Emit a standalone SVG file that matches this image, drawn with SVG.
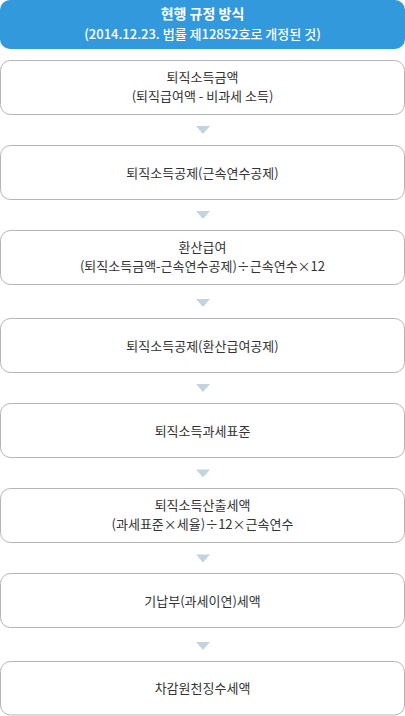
<svg xmlns="http://www.w3.org/2000/svg" width="405" height="716" viewBox="0 0 405 716">
<style>
.box{fill:#ffffff;stroke:#b4b4b4;stroke-width:1}
.hdr{fill:#3399dd}
.arr{fill:#c3d4e0}
text{font-family:"Noto Sans CJK KR","Noto Sans",sans-serif;text-anchor:middle}
.t{font-size:13px;fill:#333333}
.h1{font-size:14px;font-weight:bold;fill:#ffffff}
.h2{font-size:13px;font-weight:500;fill:#ffffff}
</style>
<rect width="405" height="716" fill="#ffffff"/>
<g id="header">
<rect class="hdr" x="0" y="0" width="405" height="49" rx="10"/>
<text class="h1" x="202.5" y="19">현행 규정 방식</text>
<text class="h2" x="202.5" y="38.5">(2014.12.23. 법률 제12852호로 개정된 것)</text>
</g>
<g id="connectors">
<polygon class="arr" points="196,126 210,126 203,134"/>
<polygon class="arr" points="196,211 210,211 203,219"/>
<polygon class="arr" points="196,299 210,299 203,307"/>
<polygon class="arr" points="196,384 210,384 203,392"/>
<polygon class="arr" points="196,469.5 210,469.5 203,477.5"/>
<polygon class="arr" points="196,554.5 210,554.5 203,562.5"/>
<polygon class="arr" points="196,642 210,642 203,650"/>
</g>
<g id="n1">
<rect class="box" x="0.5" y="60.5" width="404" height="54" rx="10"/>
<text class="t" x="202.5" y="81.5">퇴직소득금액</text>
<text class="t" x="202.5" y="100.5">(퇴직급여액 - 비과세 소득)</text>
</g>
<g id="n2">
<rect class="box" x="0.5" y="145.5" width="404" height="54" rx="10"/>
<text class="t" x="202.5" y="177.5">퇴직소득공제(근속연수공제)</text>
</g>
<g id="n3">
<rect class="box" x="0.5" y="230.5" width="404" height="54" rx="10"/>
<text class="t" x="202.5" y="251.5">환산급여</text>
<text class="t" x="202.5" y="270.5">(퇴직소득금액-근속연수공제)÷근속연수×12</text>
</g>
<g id="n4">
<rect class="box" x="0.5" y="318.5" width="404" height="54" rx="10"/>
<text class="t" x="202.5" y="350.5">퇴직소득공제(환산급여공제)</text>
</g>
<g id="n5">
<rect class="box" x="0.5" y="403.5" width="404" height="54" rx="10"/>
<text class="t" x="202.5" y="435.5">퇴직소득과세표준</text>
</g>
<g id="n6">
<rect class="box" x="0.5" y="488.5" width="404" height="54" rx="10"/>
<text class="t" x="202.5" y="509.5">퇴직소득산출세액</text>
<text class="t" x="202.5" y="528.5">(과세표준×세율)÷12×근속연수</text>
</g>
<g id="n7">
<rect class="box" x="0.5" y="573.5" width="404" height="54" rx="10"/>
<text class="t" x="202.5" y="605.5">기납부(과세이연)세액</text>
</g>
<g id="n8">
<rect class="box" x="0.5" y="661.5" width="404" height="53.5" rx="10"/>
<text class="t" x="202.5" y="693">차감원천징수세액</text>
</g>
</svg>
